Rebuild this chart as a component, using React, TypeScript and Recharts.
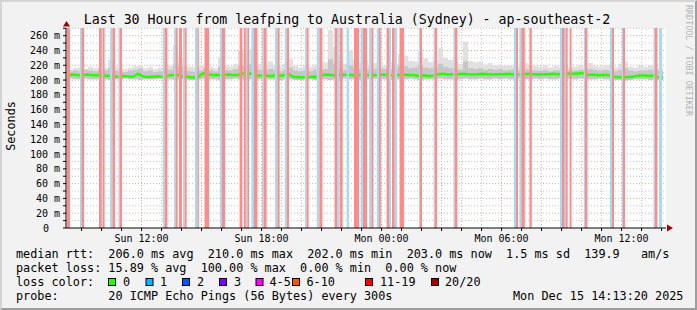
import {
  Area,
  ComposedChart,
  Line,
  ReferenceArea,
  ReferenceLine,
  XAxis,
  YAxis,
} from "recharts";

const MONO = "'DejaVu Sans Mono', monospace";
const STEP_H = 0.25; // one sample every 15 min, x axis is hours since window start
const START_CLOCK = 8 + 13 / 60 + 20 / 3600; // Sun 08:13:20

// median rtt in ms
const MEDIAN = [
  207, 207.5, 206.5, 207, 207.5, 206.5, 207, 206, 206, 205, 204.5, 205.5, 205, 204.5, 208.5, 205, 204, 204.5, 205, 204,
  206, 207, 207, 204.5, 204, 203.5, 204, 209, 208, 207, 207, 206.5, 207.5, 207, 207, 209, 208.5, 209, 206, 206.5,
  205.5, 206, 206.5, 206, 209, 204.5, 204, 203.5, 204, 204.5, 204, 207, 207.5, 206.5, 207, 207.5, 207, 207, 206.5, 207.5,
  207, 206.5, 207, 207.5, 207, 206.5, 207, 207.5, 207, 207, 206, 206.5, 205.5, 206, 208, 208.5, 207.5, 208, 208, 208.5,
  208, 207.5, 208, 208.5, 208, 207.5, 208, 208, 208.5, 208, 207.5, 208, 208.5, 208, 207.5, 208, 208, 208.5, 208, 209,
  209, 208.5, 209, 209.5, 207, 207.5, 206.5, 207, 207, 204.5, 204, 203.5, 204, 204.5, 206, 206.5, 205.5, 206, 204, 203,
];

// smoke: lowest ping, top of the dense part, highest ping (ms)
const SMOKE_MIN = [
  202, 201, 201, 202, 201, 201, 202, 201, 200, 201, 201, 202, 201, 201, 200, 201, 201, 201, 202, 201,
  201, 200, 201, 201, 200, 200, 201, 202, 201, 201, 200, 201, 201, 202, 201, 200, 201, 201, 201, 202,
  201, 201, 200, 201, 201, 200, 200, 201, 201, 200, 201, 201, 200, 201, 201, 202, 201, 201, 200, 201,
  201, 202, 201, 201, 200, 201, 201, 201, 202, 201, 200, 201, 201, 201, 202, 201, 201, 200, 201, 202,
  201, 201, 202, 201, 201, 202, 201, 202, 201, 201, 202, 201, 201, 202, 201, 202, 201, 201, 202, 202,
  202, 201, 202, 202, 201, 201, 202, 201, 201, 200, 200, 199, 200, 201, 201, 201, 200, 201, 200, 199,
];
const SMOKE_MID = [
  212, 213, 212, 214, 213, 212, 214, 213, 216, 213, 212, 211, 213, 214, 216, 212, 213, 211, 212, 215,
  214, 222, 218, 213, 212, 211, 213, 216, 214, 212, 218, 214, 213, 215, 220, 219, 221, 218, 214, 213,
  215, 214, 212, 214, 217, 213, 212, 213, 212, 214, 213, 215, 228, 222, 216, 214, 220, 217, 215, 216,
  214, 215, 216, 215, 214, 215, 220, 219, 216, 217, 221, 217, 216, 217, 222, 218, 216, 215, 214, 225,
  216, 215, 216, 214, 215, 214, 215, 213, 214, 215, 213, 215, 214, 213, 213, 214, 212, 213, 213, 214,
  213, 213, 214, 213, 215, 214, 213, 214, 213, 212, 214, 216, 213, 212, 213, 213, 214, 213, 212, 211,
];
const SMOKE_MAX = [
  214, 216, 217, 215, 218, 216, 219, 217, 227, 218, 216, 215, 217, 219, 220, 216, 218, 215, 217, 221,
  219, 248, 231, 220, 218, 217, 219, 221, 218, 216, 231, 220, 218, 222, 240, 236, 242, 238, 222, 219,
  225, 220, 218, 222, 228, 219, 217, 220, 218, 221, 219, 224, 268, 245, 226, 222, 240, 228, 224, 227,
  221, 223, 225, 220, 224, 222, 236, 233, 226, 225, 238, 229, 224, 226, 243, 230, 227, 224, 222, 252,
  226, 224, 225, 221, 223, 220, 221, 219, 220, 222, 218, 223, 220, 219, 218, 220, 217, 219, 218, 219,
  217, 218, 220, 217, 223, 219, 218, 220, 219, 217, 222, 225, 218, 217, 219, 218, 220, 217, 216, 214,
];

// loss periods, [from, to] in hours since window start
const RED_BANDS: [number, number][] = [
  [0.05, 0.2], [0.78, 0.9], [1.65, 1.78], [1.85, 1.93], [2.32, 2.45], [2.68, 2.8], [4.93, 5.07], [5.48, 5.58],
  [5.65, 5.8], [5.93, 6.03], [6.57, 6.64], [6.93, 7.15], [7.79, 7.95], [8.68, 8.82], [8.9, 8.99], [9.07, 9.15],
  [9.4, 9.57], [9.88, 10.03], [10.57, 10.68], [11.04, 11.15], [12.03, 12.13], [12.67, 12.82], [13.43, 13.55],
  [13.68, 13.83], [14.4, 14.65], [14.85, 15.05], [15.27, 15.37], [15.65, 15.74], [16.03, 16.15], [16.3, 16.43],
  [16.68, 16.9], [17.7, 17.8], [18.43, 18.55], [19.44, 19.57], [22.5, 22.6], [22.77, 22.94], [23.17, 23.29],
  [24.8, 24.93], [25.0, 25.08], [25.18, 25.28], [25.95, 26.07], [27.3, 27.4], [27.85, 27.95], [29.44, 29.57],
];
const BLUE_BANDS: [number, number][] = [
  [0.7, 0.78], [1.78, 1.85], [2.2, 2.32], [2.62, 2.68], [4.84, 4.93], [5.4, 5.48], [5.85, 5.93], [6.45, 6.57],
  [7.7, 7.79], [8.99, 9.07], [9.27, 9.4], [9.8, 9.88], [10.45, 10.57], [10.94, 11.04], [11.95, 12.03],
  [12.54, 12.67], [13.55, 13.65], [14.03, 14.15], [14.73, 14.85], [15.15, 15.27], [15.54, 15.65], [16.15, 16.25],
  [16.43, 16.55], [17.65, 17.7], [18.38, 18.43], [19.37, 19.44], [22.4, 22.5], [22.67, 22.77], [24.7, 24.8],
  [24.93, 25.0], [25.89, 25.95], [27.2, 27.3], [27.79, 27.85], [29.37, 29.44], [29.65, 29.8],
];

// clock hours shown on the time axis (24+ = Monday)
const CLOCK_HOURS = [
  9, 10, 11, 12, 13, 14, 15, 16, 17, 18, 19, 20, 21, 22, 23, 24, 25, 26, 27, 28, 29, 30, 31, 32, 33, 34, 35, 36, 37, 38,
];
const Y_TICKS = [0, 10, 20, 30, 40, 50, 60, 70, 80, 90, 100, 110, 120, 130, 140, 150, 160, 170, 180, 190, 200, 210, 220, 230, 240, 250, 260, 270];

const LOSS_COLORS = [
  { label: "0", color: "#26ff00", sx: 108, lx: 123 },
  { label: "1", color: "#00b8ff", sx: 145.5, lx: 160 },
  { label: "2", color: "#0059ff", sx: 182, lx: 197 },
  { label: "3", color: "#7e00ff", sx: 219, lx: 234 },
  { label: "4-5", color: "#ff00ff", sx: 255.5, lx: 269.5 },
  { label: "6-10", color: "#ff5500", sx: 292, lx: 306.5 },
  { label: "11-19", color: "#ff0000", sx: 365, lx: 380 },
  { label: "20/20", color: "#a00000", sx: 431, lx: 445 },
];

const data = MEDIAN.map((m, i) => ({
  t: 0.1 + i * STEP_H,
  med: m,
  smoke: [SMOKE_MIN[i], SMOKE_MAX[i]],
  core: [SMOKE_MIN[i], SMOKE_MID[i]],
}));

const hourTicks = CLOCK_HOURS.map((h) => h - START_CLOCK);

function XTick({ x, y, payload }: any) {
  const clock = Math.round(payload.value + START_CLOCK);
  if (clock % 6 !== 0) return null;
  const day = clock < 24 ? "Sun" : "Mon";
  const label = `${day} ${String(clock % 24).padStart(2, "0")}:00`;
  return (
    <text x={x} y={y} dy={8.5} textAnchor="middle" fontSize={10} fontFamily={MONO} fill="#000">
      {label}
    </text>
  );
}

function YTick({ x, y, payload }: any) {
  const v = payload.value;
  if (v % 20 !== 0) return null;
  if (v === 0)
    return (
      <text x={x - 11} y={y} dy={3.5} textAnchor="end" fontSize={10} fontFamily={MONO} fill="#000">
        0
      </text>
    );
  return (
    <text x={x} y={y} dy={3.5} textAnchor="end" fontSize={10} fontFamily={MONO} fill="#000">
      {`${v} m`}
    </text>
  );
}

export default function App() {
  return (
    <div style={{ position: "absolute", left: 0, top: 0, width: 697, height: 310, background: "#f2f2f2" }}>
      <div
        style={{
          position: "absolute",
          inset: 0,
          boxSizing: "border-box",
          borderTop: "2px solid #d4d4d4",
          borderLeft: "2px solid #d4d4d4",
          borderRight: "2px solid #9e9e9e",
          borderBottom: "2px solid #9e9e9e",
        }}
      />
      <div style={{ position: "absolute", left: 0, top: 0 }}>
        <ComposedChart width={697} height={310} data={data} margin={{ top: 28, right: 31, bottom: 52, left: 6 }}>
          <ReferenceArea x1={0} x2={30} y1={0} y2={270.4} fill="#ffffff" fillOpacity={1} zIndex={-200} />
          {Y_TICKS.filter((v) => v > 0).map((v) => (
            <ReferenceLine
              key={`h${v}`}
              y={v}
              stroke={v % 20 === 0 ? "#e6a3a3" : "#c4c4c4"}
              strokeDasharray="1 2"
              zIndex={-100}
            />
          ))}
          {CLOCK_HOURS.map((h, i) => (
            <ReferenceLine
              key={`v${h}`}
              x={hourTicks[i]}
              stroke={h % 3 === 0 ? "#e6a3a3" : "#c4c4c4"}
              strokeDasharray="1 2"
              zIndex={-100}
            />
          ))}
          <XAxis
            type="number"
            dataKey="t"
            domain={[0, 30]}
            allowDataOverflow
            ticks={hourTicks}
            interval={0}
            height={30}
            tickSize={3}
            tickMargin={2}
            tick={<XTick />}
            axisLine={{ stroke: "#000" }}
            tickLine={{ stroke: "#000" }}
          />
          <YAxis
            type="number"
            domain={[0, 270.4]}
            allowDataOverflow
            ticks={Y_TICKS}
            interval={0}
            width={60}
            tickSize={3}
            tickMargin={3}
            tick={<YTick />}
            axisLine={{ stroke: "#000" }}
            tickLine={{ stroke: "#000" }}
          />
          <Area
            dataKey="smoke"
            type="stepAfter"
            stroke="none"
            fill="#e0e0e0"
            fillOpacity={1}
            isAnimationActive={false}
          />
          <Area
            dataKey="core"
            type="stepAfter"
            stroke="none"
            fill="#c6c6c6"
            fillOpacity={1}
            isAnimationActive={false}
          />
          <Line
            dataKey="med"
            type="linear"
            stroke="#26ff00"
            strokeWidth={2.5}
            dot={false}
            isAnimationActive={false}
          />
          {BLUE_BANDS.map(([a, b], i) => (
            <ReferenceArea key={`b${i}`} x1={a} x2={b} fill="#a6dcf2" fillOpacity={1} stroke="none" zIndex={450} />
          ))}
          {RED_BANDS.map(([a, b], i) => (
            <ReferenceArea key={`r${i}`} x1={a} x2={b} fill="#ff8b8b" fillOpacity={1} stroke="none" zIndex={450} />
          ))}
        </ComposedChart>
      </div>
      <svg width={697} height={310} style={{ position: "absolute", left: 0, top: 0, pointerEvents: "none" }}>
        <text x={347} y={23.5} textAnchor="middle" fontSize={13.25} fontFamily={MONO} fill="#000">
          Last 30 Hours from leafping to Australia (Sydney) - ap-southeast-2
        </text>
        <text
          x={14.5}
          y={126}
          transform="rotate(-90 14.5 126)"
          textAnchor="middle"
          fontSize={11.8}
          fontFamily={MONO}
          fill="#000"
        >
          Seconds
        </text>
        <text x={685.5} y={5} transform="rotate(90 685.5 5)" fontSize={8.4} fontFamily={MONO} fill="#b4b4b4">
          RRDTOOL / TOBI OETIKER
        </text>
        <polygon points="63,26.5 70,26.5 66.5,21" fill="#a00000" />
        <polygon points="667,224.5 667,231.5 673,228" fill="#a00000" />
        <g fontSize={11.8} fontFamily={MONO} fill="#000" style={{ whiteSpace: "pre" }}>
          <text x={16} y={257.5} xmlSpace="preserve">
            {"median rtt:  206.0 ms avg  210.0 ms max  202.0 ms min  203.0 ms now  1.5 ms sd  139.9   am/s"}
          </text>
          <text x={16} y={271.7} xmlSpace="preserve">
            {"packet loss: 15.89 % avg  100.00 % max  0.00 % min  0.00 % now"}
          </text>
          <text x={16} y={286} xmlSpace="preserve">
            {"loss color:"}
          </text>
          {LOSS_COLORS.map((c) => (
            <g key={c.label}>
              <rect x={c.sx + 0.5} y={278.5} width={7} height={7} fill={c.color} stroke="#000" strokeWidth={1} />
              <text x={c.lx} y={286}>
                {c.label}
              </text>
            </g>
          ))}
          <text x={16} y={300} xmlSpace="preserve">
            {"probe:       20 ICMP Echo Pings (56 Bytes) every 300s"}
          </text>
          <text x={513} y={300} xmlSpace="preserve">
            {"Mon Dec 15 14:13:20 2025"}
          </text>
        </g>
      </svg>
    </div>
  );
}
